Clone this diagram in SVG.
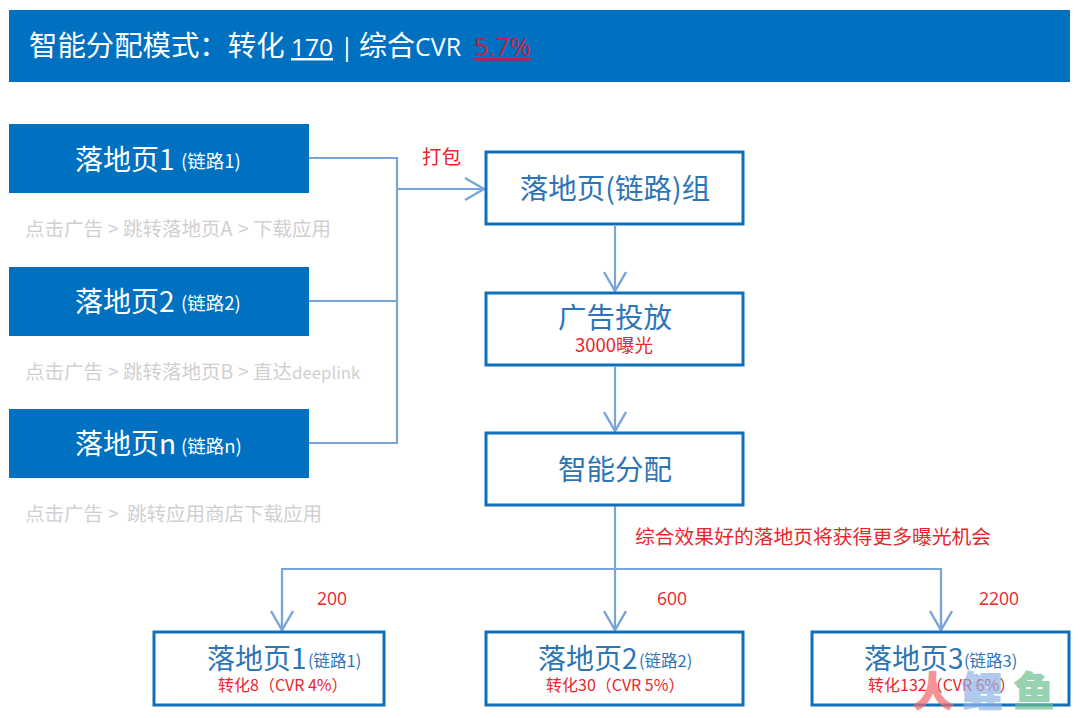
<svg xmlns="http://www.w3.org/2000/svg" width="1080" height="718" viewBox="0 0 1080 718">
<style>
text{font-family:"Noto Sans CJK SC","Noto Sans",sans-serif;}
.lat{font-family:"Open Sans","Noto Sans CJK SC",sans-serif;}
.solid{fill:#0070c0;}
.box{fill:#fff;stroke:#0f6fb8;stroke-width:3;}
.w{fill:#fff;}
.b{fill:#2e75b6;}
.r{fill:#e8262c;}
.g{fill:#d0d0d0;font-size:19.5px;}
.c{text-anchor:middle;}
.conn{fill:none;stroke:#78a5da;stroke-width:2.2;}
</style>
<defs>
<marker id="ah" markerUnits="userSpaceOnUse" markerWidth="24" markerHeight="26" refX="20" refY="12" orient="auto">
<path d="M1 1 L20 12 L1 23" fill="none" stroke="#78a5da" stroke-width="2.4"/>
</marker>
</defs>
<rect width="1080" height="718" fill="#fff"/>
<g id="header">
<rect class="solid" x="9" y="10" width="1061" height="72"/>
<text class="w" x="29" y="56" font-size="28.4">智能分配模式：转化</text>
<text class="w lat" x="291" y="56" font-size="24.5" text-decoration="underline">170</text>
<text class="w lat" x="340" y="56" font-size="25">|</text>
<text class="w" x="359" y="56" font-size="28">综合</text>
<text class="w lat" x="415" y="56" font-size="25">CVR</text>
<text x="474" y="56" font-size="25.5" class="lat" fill="#c8203c" text-decoration="underline">5.7%</text>
</g>
<g id="connectors">
<path class="conn" d="M309 158H397V443H309"/>
<path class="conn" d="M309 301H397"/>
<path class="conn" d="M397 189H484" marker-end="url(#ah)"/>
<path class="conn" d="M615 226V291" marker-end="url(#ah)"/>
<path class="conn" d="M615 367V431" marker-end="url(#ah)"/>
<path class="conn" d="M615 506V630" marker-end="url(#ah)"/>
<path class="conn" d="M941 630V569H282V630"/>
<path class="conn" d="M282 600V630" marker-end="url(#ah)"/>
<path class="conn" d="M941 600V630" marker-end="url(#ah)"/>
</g>
<g id="lp1">
<rect class="solid" x="9" y="124" width="300" height="69"/>
<text class="w" x="75" y="170" font-size="28">落地页1</text>
<text class="w" x="181" y="168" font-size="18.5">(链路1)</text>
</g>
<g id="desc1">
<text class="g" x="25" y="236">点击广告</text>
<text class="g" x="108" y="236">&gt;</text>
<text class="g" x="123" y="236">跳转落地页A</text>
<text class="g" x="238" y="236">&gt;</text>
<text class="g" x="253" y="236">下载应用</text>
</g>
<g id="lp2">
<rect class="solid" x="9" y="267" width="300" height="69"/>
<text class="w" x="75" y="312" font-size="28">落地页2</text>
<text class="w" x="181" y="310" font-size="18.5">(链路2)</text>
</g>
<g id="desc2">
<text class="g" x="25" y="379">点击广告</text>
<text class="g" x="108" y="379">&gt;</text>
<text class="g" x="123" y="379">跳转落地页B</text>
<text class="g" x="238" y="379">&gt;</text>
<text class="g" x="253" y="379">直达<tspan font-size="16.8">deeplink</tspan></text>
</g>
<g id="lpn">
<rect class="solid" x="9" y="409" width="300" height="69"/>
<text class="w" x="75" y="454" font-size="28">落地页n</text>
<text class="w" x="181" y="453" font-size="18.5">(链路n)</text>
</g>
<g id="descn">
<text class="g" x="25" y="521">点击广告</text>
<text class="g" x="108" y="521">&gt;</text>
<text class="g" x="127" y="521">跳转应用商店下载应用</text>
</g>
<text class="r" x="422" y="164" font-size="19.5">打包</text>
<g id="group">
<rect class="box" x="486" y="152" width="257" height="72"/>
<text class="b c" x="615" y="199" font-size="28.5">落地页(链路)组</text>
</g>
<g id="ads">
<rect class="box" x="486" y="293" width="257" height="72"/>
<text class="b c" x="615" y="328" font-size="28.5">广告投放</text>
<text class="r c" x="614" y="352" font-size="18.5">3000曝光</text>
</g>
<g id="smart">
<rect class="box" x="486" y="433" width="257" height="72"/>
<text class="b c" x="615" y="480" font-size="28.5">智能分配</text>
</g>
<text class="r" x="635" y="544" font-size="19.8">综合效果好的落地页将获得更多曝光机会</text>
<text class="r lat" x="317" y="605" font-size="17.5">200</text>
<text class="r lat" x="657" y="605" font-size="17.5">600</text>
<text class="r lat" x="979" y="605" font-size="17.5">2200</text>
<g id="r1">
<rect class="box" x="154" y="632" width="230" height="73"/>
<text class="b" x="207" y="669" font-size="28">落地页1</text>
<text class="b" x="308" y="667" font-size="16.5">(链路1)</text>
<text class="r" x="218" y="691" font-size="16">转化8（CVR 4%）</text>
</g>
<g id="r2">
<rect class="box" x="486" y="632" width="257" height="73"/>
<text class="b" x="538" y="669" font-size="28">落地页2</text>
<text class="b" x="639" y="667" font-size="16.5">(链路2)</text>
<text class="r" x="546" y="691" font-size="16">转化30（CVR 5%）</text>
</g>
<g id="r3">
<rect class="box" x="812" y="632" width="257" height="73"/>
<text class="b" x="864" y="669" font-size="28">落地页3</text>
<text class="b" x="964" y="667" font-size="16.5">(链路3)</text>
<text class="r" x="868" y="691" font-size="16">转化132（CVR 6%）</text>
</g>
<g id="watermark" font-weight="700" font-size="40" opacity="0.7" stroke-width="2">
<text x="913" y="706" fill="#f0686a" stroke="#f0686a">人</text>
<text x="962" y="706" fill="#8fb4e6" stroke="#8fb4e6">鲤</text>
<text x="1014" y="706" fill="#6fbf8f" stroke="#6fbf8f">鱼</text>
</g>
</svg>
